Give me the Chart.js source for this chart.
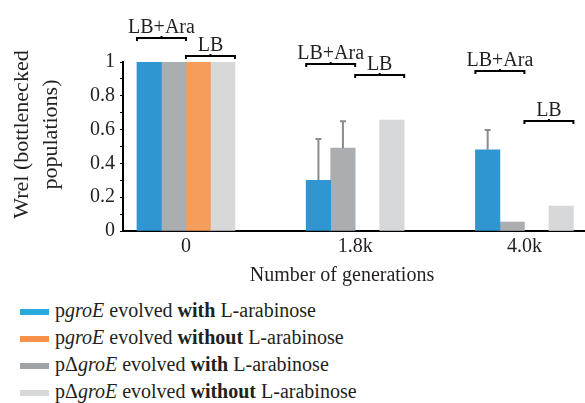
<!DOCTYPE html>
<html lang="en">
<head>
<meta charset="UTF-8">
<title>Wrel of bottlenecked populations</title>
<style>
  body { margin: 0; background: #fff; font-family: "Liberation Serif", "Times New Roman", Times, "DejaVu Serif", serif; color: #231f20; }
  #wrap { position: relative; width: 585px; height: 290px; }
  #legend { margin: 0; padding: 0; list-style: none; position: absolute; left: 0; top: 297px; }
  #legend li { height: 27px; line-height: 27px; font-size: 20px; white-space: nowrap; }
  #legend .sw { display: inline-block; width: 29px; height: 6px; margin: 0 6px 0 20px; vertical-align: middle; }
</style>
<script src="https://cdn.jsdelivr.net/npm/chart.js"></script>
</head>
<body>
<div id="wrap"><canvas id="chart" width="585" height="290"></canvas></div>
<ul id="legend"></ul>

<script>
// groups on the x axis
const groupLabels = ['0', '1.8k', '4.0k'];
const yTickLabels = ['0', '0.2', '0.4', '0.6', '0.8', '1'];

// bar values, in drawing order (blue, dark gray, orange, light gray)
const pgroEWith = [1, 0.30, 0.48];
const pdGroEWith = [1, 0.49, 0.053];
const pgroEWithout = [1, null, null];
const pdGroEWithout = [1, 0.657, 0.148];

// upper error bars
const pgroEWithErr = [0, 0.245, 0.117];
const pdGroEWithErr = [0, 0.16, 0];

// heights of the LB+Ara / LB brackets above each group
const araLevels = [1.142, 0.988, 0.947];
const lbLevels = [1.036, 0.923, 0.651];

// legend (order as in the figure)
const legendItems = [
    ['#29abe2', 'p<i>groE</i> evolved <b>with</b> L-arabinose'],
    ['#f7904b', 'p<i>groE</i> evolved <b>without</b> L-arabinose'],
    ['#a0a3a6', 'p&Delta;<i>groE</i> evolved <b>with</b> L-arabinose'],
    ['#d7d8da', 'p&Delta;<i>groE</i> evolved <b>without</b> L-arabinose']
];

const FONT = '"Liberation Serif", "Times New Roman", Times, "DejaVu Serif", serif';
const TEXT = '#231f20';

const legend = document.getElementById('legend');
legendItems.forEach(([color, html]) => {
    const li = document.createElement('li');
    li.innerHTML = `<span class="sw" style="background:${color}"></span>${html}`;
    legend.appendChild(li);
});

const toPoints = vals => vals.map((v, i) => ({ x: i, y: v }));

const extras = {
    id: 'extras',
    afterDatasetsDraw(chart) {
        const ctx = chart.ctx;
        const y = chart.scales.y;
        const area = chart.chartArea;
        ctx.save();

        // error bars (upper only)
        ctx.strokeStyle = '#878c91';
        ctx.lineWidth = 2;
        [[0, pgroEWith, pgroEWithErr], [1, pdGroEWith, pdGroEWithErr]].forEach(([di, vals, errs]) => {
            chart.getDatasetMeta(di).data.forEach((bar, i) => {
                if (!errs[i]) return;
                const top = y.getPixelForValue(vals[i] + errs[i]);
                ctx.beginPath();
                ctx.moveTo(bar.x, bar.y);
                ctx.lineTo(bar.x, top);
                ctx.moveTo(bar.x - 3, top);
                ctx.lineTo(bar.x + 3, top);
                ctx.stroke();
            });
        });

        // brackets with labels
        const first = chart.getDatasetMeta(0).data;
        const last = chart.getDatasetMeta(3).data;
        ctx.strokeStyle = '#000';
        ctx.fillStyle = TEXT;
        ctx.font = '20px ' + FONT;
        ctx.textAlign = 'center';
        ctx.textBaseline = 'alphabetic';
        const bracket = (x1, x2, py, label) => {
            const mid = (x1 + x2) / 2;
            ctx.beginPath();
            ctx.moveTo(x1, py + 3);
            ctx.lineTo(x1, py);
            ctx.lineTo(x2, py);
            ctx.lineTo(x2, py + 3);
            ctx.moveTo(mid, py);
            ctx.lineTo(mid, py - 2);
            ctx.stroke();
            ctx.fillText(label, mid, py - 5);
        };
        first.forEach((b, i) => {
            const w = b.width;
            bracket(b.x - w / 2, b.x + 1.5 * w, y.getPixelForValue(araLevels[i]), 'LB+Ara');
            const e = last[i];
            bracket(e.x - 1.5 * w, e.x + w / 2, y.getPixelForValue(lbLevels[i]), 'LB');
        });

        // axis titles
        ctx.textBaseline = 'middle';
        ctx.fillText('Number of generations', area.left + 219, area.bottom + 45);
        ctx.font = '22px ' + FONT;
        ctx.translate(22, (area.top + area.bottom) / 2 - 12);
        ctx.rotate(-Math.PI / 2);
        ctx.fillText('Wrel (bottlenecked', 0, 0);
        ctx.fillText('populations)', 0, 29);
        ctx.restore();
    }
};

new Chart(document.getElementById('chart'), {
    type: 'bar',
    data: {
        datasets: [
            { label: 'pgroE evolved with L-arabinose', data: toPoints(pgroEWith), backgroundColor: '#3096d2' },
            { label: 'pΔgroE evolved with L-arabinose', data: toPoints(pdGroEWith), backgroundColor: '#abaeb1' },
            { label: 'pgroE evolved without L-arabinose', data: toPoints(pgroEWithout), backgroundColor: '#f79d5c' },
            { label: 'pΔgroE evolved without L-arabinose', data: toPoints(pdGroEWithout), backgroundColor: '#d7d8da' }
        ]
    },
    options: {
        responsive: false,
        animation: false,
        barThickness: 24.5,
        layout: { padding: { top: 62, right: 0, left: 0, bottom: 0 } },
        plugins: {
            legend: { display: false },
            tooltip: { enabled: false }
        },
        scales: {
            x: {
                type: 'linear',
                min: -0.372,
                max: 2.358,
                offset: false,
                grid: { display: false, drawTicks: false },
                border: { display: true, color: '#000', width: 2 },
                afterBuildTicks: s => { s.ticks = groupLabels.map((_, i) => ({ value: i })); },
                afterFit: s => { s.height = 59; },
                ticks: {
                    autoSkip: false,
                    maxRotation: 0,
                    padding: 4,
                    color: TEXT,
                    font: { family: FONT, size: 20 },
                    callback: v => groupLabels[v] ?? ''
                }
            },
            y: {
                min: 0,
                max: 1,
                grid: { drawOnChartArea: false, drawTicks: true, tickLength: 3, color: '#000', lineWidth: 1 },
                border: { display: true, color: '#000', width: 2 },
                afterFit: s => { s.width = 123; },
                ticks: {
                    stepSize: 0.1,
                    autoSkip: false,
                    padding: 5,
                    color: TEXT,
                    font: { family: FONT, size: 20 },
                    callback: v => {
                        const k = Math.round(v * 10);
                        return k % 2 === 0 ? yTickLabels[k / 2] : '';
                    }
                }
            }
        }
    },
    plugins: [extras]
});
</script>
</body>
</html>
